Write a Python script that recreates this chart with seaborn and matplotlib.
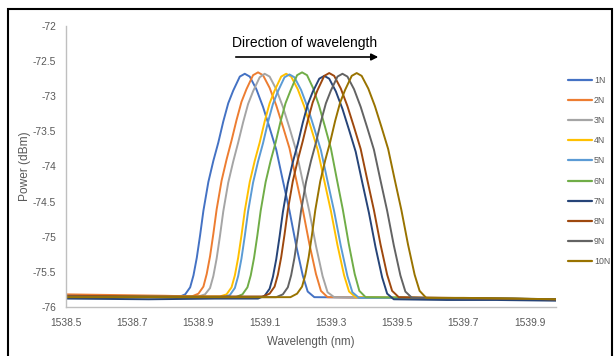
import matplotlib
matplotlib.use("Agg")
import matplotlib.pyplot as plt
import seaborn as sns
import pandas as pd
from matplotlib.patches import Rectangle
from matplotlib.lines import Line2D

series_names = ["1N", "2N", "3N", "4N", "5N", "6N", "7N", "8N", "9N", "10N"]
colors = ["#4472C4", "#ED7D31", "#A5A5A5", "#FFC000", "#5B9BD5",
          "#70AD47", "#264478", "#9E480E", "#636363", "#997300"]

wl_1N = [1538.50, 1538.65, 1538.78, 1538.840, 1538.860, 1538.875, 1538.885, 1538.895, 1538.905, 1538.915, 1538.930, 1538.945, 1538.960, 1538.975, 1538.990, 1539.005, 1539.025, 1539.040, 1539.055, 1539.075, 1539.095, 1539.115, 1539.135, 1539.155, 1539.175, 1539.195, 1539.215, 1539.230, 1539.250, 1539.50, 1539.75, 1539.98]
pw_1N = [-75.85, -75.86, -75.85, -75.86, -75.82, -75.72, -75.55, -75.30, -74.98, -74.63, -74.22, -73.92, -73.66, -73.36, -73.10, -72.92, -72.72, -72.68, -72.72, -72.90, -73.15, -73.45, -73.76, -74.20, -74.63, -75.12, -75.55, -75.78, -75.86, -75.87, -75.88, -75.90]

wl_2N = [1538.50, 1538.65, 1538.80, 1538.880, 1538.900, 1538.915, 1538.925, 1538.935, 1538.945, 1538.955, 1538.970, 1538.985, 1539.000, 1539.015, 1539.030, 1539.045, 1539.065, 1539.080, 1539.095, 1539.115, 1539.135, 1539.155, 1539.175, 1539.195, 1539.215, 1539.235, 1539.255, 1539.270, 1539.290, 1539.50, 1539.75, 1539.98]
pw_2N = [-75.82, -75.83, -75.84, -75.85, -75.81, -75.71, -75.53, -75.28, -74.96, -74.61, -74.20, -73.90, -73.63, -73.34, -73.08, -72.90, -72.70, -72.66, -72.70, -72.88, -73.13, -73.43, -73.74, -74.18, -74.61, -75.10, -75.53, -75.77, -75.86, -75.87, -75.88, -75.89]

wl_3N = [1538.50, 1538.65, 1538.82, 1538.900, 1538.920, 1538.935, 1538.945, 1538.955, 1538.965, 1538.975, 1538.990, 1539.005, 1539.020, 1539.035, 1539.050, 1539.065, 1539.085, 1539.100, 1539.115, 1539.135, 1539.155, 1539.175, 1539.195, 1539.215, 1539.235, 1539.255, 1539.275, 1539.290, 1539.310, 1539.50, 1539.75, 1539.98]
pw_3N = [-75.84, -75.85, -75.85, -75.85, -75.82, -75.73, -75.56, -75.31, -74.99, -74.64, -74.23, -73.93, -73.66, -73.37, -73.11, -72.93, -72.73, -72.68, -72.72, -72.90, -73.15, -73.45, -73.77, -74.21, -74.64, -75.13, -75.56, -75.79, -75.86, -75.87, -75.88, -75.89]

wl_4N = [1538.50, 1538.70, 1538.88, 1538.965, 1538.985, 1539.000, 1539.010, 1539.020, 1539.030, 1539.040, 1539.055, 1539.070, 1539.085, 1539.100, 1539.115, 1539.130, 1539.150, 1539.165, 1539.180, 1539.200, 1539.220, 1539.240, 1539.260, 1539.280, 1539.300, 1539.320, 1539.340, 1539.355, 1539.375, 1539.55, 1539.75, 1539.98]
pw_4N = [-75.85, -75.86, -75.85, -75.85, -75.82, -75.72, -75.55, -75.30, -74.98, -74.63, -74.22, -73.92, -73.66, -73.36, -73.10, -72.92, -72.72, -72.68, -72.72, -72.90, -73.15, -73.45, -73.76, -74.20, -74.63, -75.12, -75.55, -75.78, -75.86, -75.87, -75.88, -75.89]

wl_5N = [1538.50, 1538.70, 1538.88, 1538.975, 1538.995, 1539.010, 1539.020, 1539.030, 1539.040, 1539.050, 1539.065, 1539.080, 1539.095, 1539.110, 1539.125, 1539.140, 1539.160, 1539.175, 1539.190, 1539.210, 1539.230, 1539.250, 1539.270, 1539.290, 1539.310, 1539.330, 1539.350, 1539.365, 1539.385, 1539.55, 1539.75, 1539.98]
pw_5N = [-75.86, -75.86, -75.86, -75.86, -75.83, -75.73, -75.56, -75.31, -74.99, -74.64, -74.23, -73.93, -73.67, -73.37, -73.11, -72.93, -72.73, -72.69, -72.73, -72.91, -73.16, -73.46, -73.77, -74.21, -74.64, -75.13, -75.56, -75.79, -75.87, -75.87, -75.88, -75.89]

wl_6N = [1538.50, 1538.70, 1538.90, 1539.013, 1539.033, 1539.048, 1539.058, 1539.068, 1539.078, 1539.088, 1539.103, 1539.118, 1539.133, 1539.148, 1539.163, 1539.178, 1539.198, 1539.213, 1539.228, 1539.246, 1539.264, 1539.282, 1539.300, 1539.318, 1539.336, 1539.354, 1539.372, 1539.386, 1539.405, 1539.60, 1539.80, 1539.98]
pw_6N = [-75.85, -75.85, -75.86, -75.86, -75.82, -75.72, -75.55, -75.30, -74.98, -74.63, -74.22, -73.92, -73.66, -73.36, -73.10, -72.92, -72.70, -72.66, -72.70, -72.88, -73.13, -73.43, -73.74, -74.18, -74.61, -75.10, -75.53, -75.77, -75.86, -75.87, -75.88, -75.89]

wl_7N = [1538.50, 1538.75, 1538.95, 1539.080, 1539.100, 1539.115, 1539.125, 1539.135, 1539.145, 1539.155, 1539.170, 1539.185, 1539.200, 1539.215, 1539.230, 1539.245, 1539.265, 1539.280, 1539.295, 1539.315, 1539.335, 1539.355, 1539.375, 1539.395, 1539.415, 1539.435, 1539.455, 1539.470, 1539.490, 1539.65, 1539.80, 1539.98]
pw_7N = [-75.88, -75.89, -75.88, -75.88, -75.84, -75.74, -75.57, -75.32, -75.00, -74.65, -74.24, -73.94, -73.68, -73.38, -73.12, -72.94, -72.75, -72.71, -72.75, -72.93, -73.18, -73.48, -73.79, -74.23, -74.66, -75.15, -75.58, -75.81, -75.89, -75.90, -75.90, -75.91]

wl_8N = [1538.50, 1538.75, 1538.95, 1539.095, 1539.115, 1539.130, 1539.140, 1539.150, 1539.160, 1539.170, 1539.185, 1539.200, 1539.215, 1539.230, 1539.245, 1539.260, 1539.280, 1539.295, 1539.310, 1539.330, 1539.350, 1539.370, 1539.390, 1539.410, 1539.430, 1539.450, 1539.470, 1539.485, 1539.505, 1539.65, 1539.80, 1539.98]
pw_8N = [-75.84, -75.85, -75.85, -75.85, -75.81, -75.71, -75.54, -75.29, -74.97, -74.62, -74.21, -73.91, -73.64, -73.35, -73.09, -72.91, -72.71, -72.67, -72.71, -72.89, -73.14, -73.44, -73.75, -74.19, -74.62, -75.11, -75.54, -75.77, -75.86, -75.87, -75.88, -75.89]

wl_9N = [1538.50, 1538.75, 1539.00, 1539.135, 1539.155, 1539.170, 1539.180, 1539.190, 1539.200, 1539.210, 1539.225, 1539.240, 1539.255, 1539.270, 1539.285, 1539.300, 1539.320, 1539.335, 1539.350, 1539.370, 1539.390, 1539.410, 1539.430, 1539.450, 1539.470, 1539.490, 1539.510, 1539.525, 1539.545, 1539.70, 1539.85, 1539.98]
pw_9N = [-75.85, -75.86, -75.86, -75.86, -75.82, -75.72, -75.55, -75.30, -74.98, -74.63, -74.22, -73.92, -73.66, -73.36, -73.10, -72.92, -72.72, -72.68, -72.72, -72.90, -73.15, -73.45, -73.76, -74.20, -74.63, -75.12, -75.55, -75.78, -75.87, -75.88, -75.88, -75.89]

wl_10N = [1538.50, 1538.75, 1539.00, 1539.178, 1539.198, 1539.213, 1539.223, 1539.233, 1539.243, 1539.253, 1539.268, 1539.283, 1539.298, 1539.313, 1539.328, 1539.343, 1539.363, 1539.378, 1539.393, 1539.413, 1539.433, 1539.453, 1539.473, 1539.493, 1539.513, 1539.533, 1539.553, 1539.568, 1539.588, 1539.70, 1539.85, 1539.98]
pw_10N = [-75.86, -75.86, -75.86, -75.86, -75.81, -75.71, -75.54, -75.29, -74.97, -74.62, -74.21, -73.91, -73.65, -73.35, -73.09, -72.91, -72.71, -72.67, -72.71, -72.89, -73.14, -73.44, -73.75, -74.19, -74.62, -75.11, -75.54, -75.77, -75.87, -75.87, -75.88, -75.89]

x_ticks = [1538.5, 1538.7, 1538.9, 1539.1, 1539.3, 1539.5, 1539.7, 1539.9]
x_tick_labels = ["1538.5", "1538.7", "1538.9", "1539.1", "1539.3", "1539.5", "1539.7", "1539.9"]
y_ticks = [-76, -75.5, -75, -74.5, -74, -73.5, -73, -72.5, -72]
y_tick_labels = ["-76", "-75.5", "-75", "-74.5", "-74", "-73.5", "-73", "-72.5", "-72"]

wls = [wl_1N, wl_2N, wl_3N, wl_4N, wl_5N, wl_6N, wl_7N, wl_8N, wl_9N, wl_10N]
pws = [pw_1N, pw_2N, pw_3N, pw_4N, pw_5N, pw_6N, pw_7N, pw_8N, pw_9N, pw_10N]

frames = []
for name, w, p in zip(series_names, wls, pws):
    frames.append(pd.DataFrame({"Wavelength": w, "Power": p, "Series": name}))
df = pd.concat(frames, ignore_index=True)

sns.set_theme(style="white")
plt.rcParams["font.family"] = ["Liberation Sans", "DejaVu Sans"]

fig = plt.figure(figsize=(6.14, 3.56), dpi=100)
ax = fig.add_axes([66 / 614, 1 - 307 / 356, (556 - 66) / 614, (307 - 26) / 356])

sns.lineplot(data=df, x="Wavelength", y="Power", hue="Series",
             hue_order=series_names, palette=colors, sort=False,
             estimator=None, units="Series", linewidth=1.4, ax=ax, legend=False)

ax.set_xlim(1538.5, 1539.98)
ax.set_ylim(-76, -72)
ax.set_xticks(x_ticks)
ax.set_xticklabels(x_tick_labels)
ax.set_yticks(y_ticks)
ax.set_yticklabels(y_tick_labels)
ax.tick_params(axis="both", length=0, labelsize=7.4, colors="#595959")
ax.tick_params(axis="x", pad=8)
ax.tick_params(axis="y", pad=7)
for s in ["top", "right"]:
    ax.spines[s].set_visible(False)
for s in ["left", "bottom"]:
    ax.spines[s].set_color("#BFBFBF")
    ax.spines[s].set_linewidth(1.0)
ax.set_xlabel("Wavelength (nm)", fontsize=8.3, color="#595959", labelpad=6)
ax.set_ylabel("Power (dBm)", fontsize=8.6, color="#595959", labelpad=1.5)

handles = [Line2D([0], [0], color=c, lw=1.6) for c in colors]
fig.legend(handles, series_names, loc="upper left",
           bbox_to_anchor=(568 / 614, 1 - 76 / 356), frameon=False,
           fontsize=6.3, labelcolor="#595959", handlelength=2.7,
           handletextpad=0.25, labelspacing=1.27, borderpad=0, borderaxespad=0)

fig.text(305 / 614, 1 - 43 / 356, "Direction of wavelength", ha="center",
         va="center", fontsize=10, color="black")
fig.add_artist(matplotlib.patches.FancyArrowPatch(
    (233 / 614, 1 - 57 / 356), (381 / 614, 1 - 57 / 356),
    transform=fig.transFigure, arrowstyle="-|>", mutation_scale=10,
    color="black", lw=1.2))

fig.add_artist(Rectangle((8 / 614, -0.05), (612 - 8) / 614, 1.05 - 9 / 356,
                         transform=fig.transFigure, fill=False,
                         edgecolor="black", lw=1.5))

fig.savefig("out.png", dpi=100)
